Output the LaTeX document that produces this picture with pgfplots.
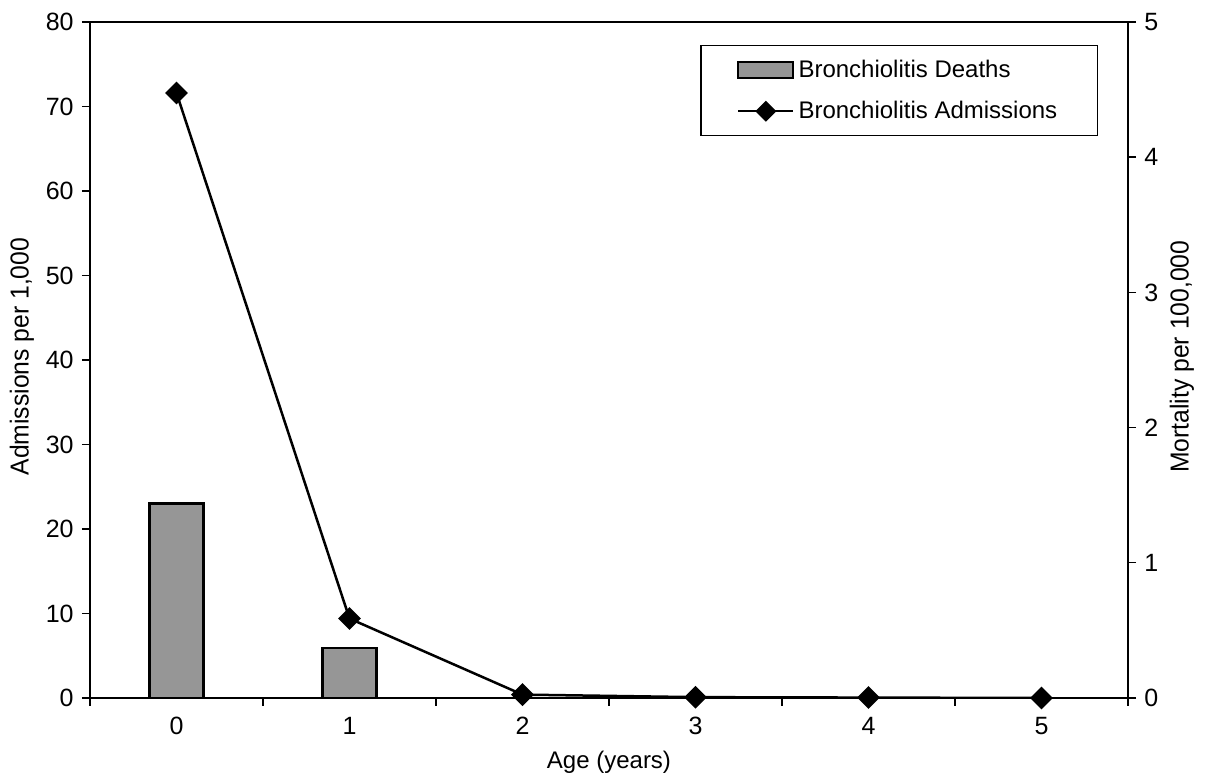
\documentclass[border=0pt]{standalone}
\usepackage{pgfplots}
\pgfplotsset{compat=1.18}
\usepackage{fontspec}
\setmainfont{Liberation Sans}
\newfontfamily\narrowfont[FakeStretch=0.95]{Liberation Sans}
\definecolor{bargray}{RGB}{150,150,150}
\newcommand\tfont{\fontsize{12.5}{14}\selectfont}

\pgfplotsset{
  base/.style={
    width=519pt, height=338pt, scale only axis,
    xmin=-0.5, xmax=5.5,
    tick align=outside,
    major tick length=4pt,
    minor tick length=4pt,
    every tick label/.append style={font=\tfont},
    xticklabel={\tfont\pgfmathprintnumber{\tick}},
    yticklabel={\tfont\pgfmathprintnumber{\tick}},
    /pgf/number format/assume math mode=true,
    axis line style={line width=1pt},
    every tick/.style={black, line width=0.7pt},
  },
}

\begin{document}
\fontsize{12}{14}\selectfont
\begin{tikzpicture}
% right axis: mortality (bars)
\begin{axis}[base,
  ymin=0, ymax=5, ytick={0,1,...,5},
  ytick pos=right, yticklabel pos=right,
  xtick={0,1,...,5}, xtick pos=left,
  major x tick style={draw=none},
  minor xtick={-0.5,0.5,...,5.5},
  xticklabel style={yshift=-1.5pt},
  xlabel={Age (years)},
  ylabel={Mortality per 100,000},
  every axis x label/.style={at={(axis description cs:0.5,-0.0945)}, anchor=center,
    font=\fontsize{12}{14}\selectfont},
  every axis y label/.style={at={(axis description cs:1.052,0.505)}, rotate=90, anchor=center,
    font=\narrowfont\fontsize{13}{15}\selectfont},
  ybar, bar width=27pt,
]
\addplot[fill=bargray, draw=black, line width=1.2pt] coordinates {(0,1.44) (1,0.37)};
\end{axis}
% left axis: admissions (line)
\begin{axis}[base,
  ymin=0, ymax=80, ytick={0,10,...,80},
  ytick pos=left,
  xtick=\empty,
  ylabel={Admissions per 1,000},
  every axis y label/.style={at={(axis description cs:-0.0655,0.505)}, rotate=90, anchor=center,
    font=\narrowfont\fontsize{13}{15}\selectfont},
  legend style={at={(axis description cs:0.9711,0.966)}, anchor=north east,
    draw=black, line width=0.7pt, font=\fontsize{12}{14}\selectfont,
    inner xsep=18pt, inner ysep=5pt, row sep=6pt},
  legend cell align=left,
]
\addlegendimage{legend image code/.code={\draw[fill=bargray, draw=black, line width=1pt] (0pt,-4pt) rectangle (27.5pt,4pt);}}
\addlegendentry{Bronchiolitis Deaths}
\addlegendimage{legend image code/.code={
  \draw[black, line width=1.2pt] (0pt,0pt) -- (27.5pt,0pt);
  \fill[black] (9pt,0pt) -- (13.75pt,4.75pt) -- (18.5pt,0pt) -- (13.75pt,-4.75pt) -- cycle;}}
\addlegendentry{Bronchiolitis Admissions}
\addplot[black, line width=1.25pt, mark=square*, mark size=3.4pt, mark options={rotate=45, fill=black}, forget plot]
  coordinates {(0,71.6) (1,9.4) (2,0.4) (3,0.1) (4,0.05) (5,0)};
\end{axis}
\path (-45pt,-40pt) rectangle (559pt,349pt);
\end{tikzpicture}
\end{document}
